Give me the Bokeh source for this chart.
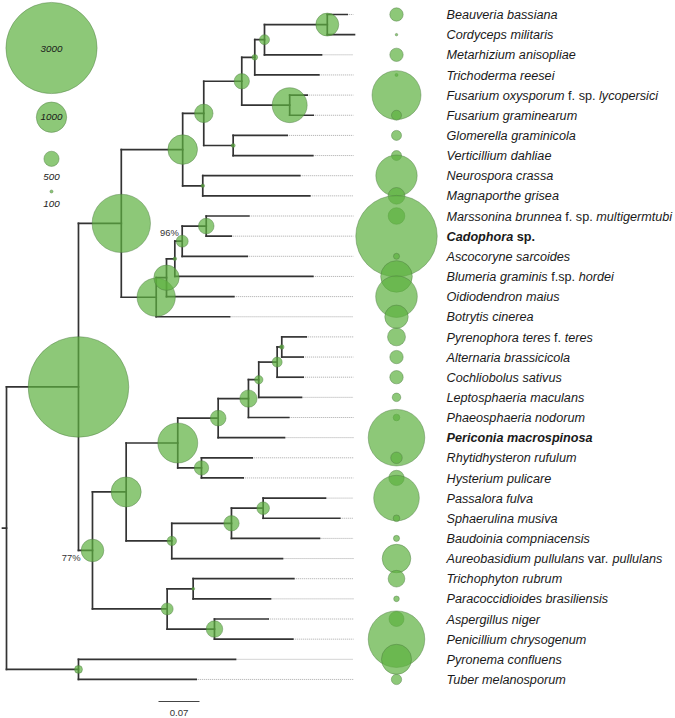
from bokeh.plotting import figure
from bokeh.models import Range1d, ColumnDataSource
from bokeh.embed import file_html
from bokeh.resources import INLINE
from bokeh.core.properties import value

# ------------------------------------------------------------------ data
# leaves, top to bottom; "|" separates italic / upright / italic parts
leaf_labels = [
    "Beauveria bassiana", "Cordyceps militaris", "Metarhizium anisopliae",
    "Trichoderma reesei", "Fusarium oxysporum| f. sp. |lycopersici",
    "Fusarium graminearum", "Glomerella graminicola", "Verticillium dahliae",
    "Neurospora crassa", "Magnaporthe grisea",
    "Marssonina brunnea| f. sp. |multigermtubi", "Cadophora| sp.",
    "Ascocoryne sarcoides", "Blumeria graminis| f.sp. |hordei",
    "Oidiodendron maius", "Botrytis cinerea", "Pyrenophora teres| f. |teres",
    "Alternaria brassicicola", "Cochliobolus sativus", "Leptosphaeria maculans",
    "Phaeosphaeria nodorum", "Periconia macrospinosa", "Rhytidhysteron rufulum",
    "Hysterium pulicare", "Passalora fulva", "Sphaerulina musiva",
    "Baudoinia compniacensis", "Aureobasidium pullulans| var. |pullulans",
    "Trichophyton rubrum", "Paracoccidioides brasiliensis", "Aspergillus niger",
    "Penicillium chrysogenum", "Pyronema confluens", "Tuber melanosporum",
]
bold_labels = ["Cadophora| sp.", "Periconia macrospinosa"]
leaf_parent = ["H", "H", "G", "F", "I", "I", "J", "J", "K", "K",
               "P", "P", "O", "N", "M", "L", "AA", "AA", "Z", "Y",
               "X", "V", "W", "W", "AC", "AC", "AB", "U", "AD", "AD",
               "AE", "AE", "PT", "PT"]
leaf_branch = [0.0340, 0.0464, 0.0973, 0.1093, 0.0299, 0.0401, 0.0922, 0.1359,
               0.1656, 0.1827, 0.0727, 0.0427, 0.1110, 0.2356, 0.1149, 0.1252,
               0.0417, 0.0365, 0.0444, 0.0729, 0.0688, 0.1132, 0.0866, 0.0712,
               0.1064, 0.1308, 0.1502, 0.1890, 0.1718, 0.1320, 0.0917, 0.1337,
               0.2681, 0.2010]
leaf_genes = [440, 80, 440, 100, 1610, 330, 330, 330, 1360, 550,
              550, 2680, 200, 1040, 1370, 770, 590, 440, 440, 280,
              220, 1860, 380, 505, 1500, 220, 200, 940, 550, 185,
              495, 1860, 990, 340]

# internal nodes (parents listed before children)
node_name = ["root", "A", "PT", "B", "Q", "C", "L", "D", "K", "E", "J", "F",
             "I", "G", "H", "M", "N", "O", "P", "R", "S", "T", "U", "V", "W",
             "X", "Y", "Z", "AA", "AB", "AC", "AD", "AE"]
node_parent = [None, "root", "root", "A", "A", "B", "B", "C", "C", "D", "D",
               "E", "E", "F", "G", "L", "M", "N", "O", "Q", "Q", "R", "R",
               "T", "T", "V", "X", "Y", "Z", "U", "AB", "S", "S"]
node_branch = [0.0068, 0.1229, 0.1229, 0.0731, 0.0239, 0.1048, 0.0596, 0.0360,
               0.0343, 0.0649, 0.0502, 0.0222, 0.0818, 0.0166, 0.1072, 0.0176,
               0.0142, 0.0126, 0.0410, 0.0575, 0.1275, 0.0881, 0.0779, 0.0690,
               0.0405, 0.0517, 0.0176, 0.0314, 0.0079, 0.1019, 0.0541, 0.0444,
               0.0808]
node_genes = [0, 3310, 260, 1920, 745, 975, 1260, 610, 120, 505, 130, 185,
              1150, 330, 755, 835, 120, 395, 515, 990, 395, 1315, 310, 515,
              475, 570, 275, 330, 150, 505, 415, 100, 545]

support_node = ["O", "Q"]
support_text = ["96%", "77%"]

legend_values = [3000, 1000, 500, 100]
legend_texts = ["3000", "1000", "500", "100"]
scale_length = 0.07
scale_text = "0.07"

# ------------------------------------------------------------------ layout helpers
PX_PER_UNIT = 585.7      # pixels per substitution unit
PX_PER_LEAF = 20.15      # pixels between leaves
W, H = 675, 718


def dx(xpx):
    return (xpx - 6.0) / PX_PER_UNIT


def uy(ypx):
    return (ypx - 14.0) / PX_PER_LEAF


SIZE_K = 2 * 0.0152               # circle diameter (px) per gene
FS = 12.65                        # label font size px
COL_X = dx(396)
LABEL_X = dx(446)
DOT_END = dx(353)

REG = {' ': 278, '.': 278, 'a': 556, 'b': 556, 'c': 500, 'd': 556, 'e': 556,
       'f': 278, 'g': 556, 'h': 556, 'i': 222, 'j': 222, 'k': 500, 'l': 222,
       'm': 833, 'n': 556, 'o': 556, 'p': 556, 'q': 556, 'r': 333, 's': 500,
       't': 278, 'u': 556, 'v': 500, 'w': 722, 'x': 500, 'y': 500, 'z': 500}
BOLD = {' ': 278, '.': 278, 'a': 556, 'b': 611, 'c': 556, 'd': 611, 'e': 556,
        'f': 333, 'g': 611, 'h': 611, 'i': 278, 'j': 278, 'k': 556, 'l': 278,
        'm': 889, 'n': 611, 'o': 611, 'p': 611, 'q': 611, 'r': 389, 's': 556,
        't': 333, 'u': 611, 'v': 556, 'w': 778, 'x': 556, 'y': 556, 'z': 500,
        'C': 722, 'P': 667}
UPPER = {'A': 667, 'B': 667, 'C': 722, 'F': 611, 'G': 778, 'H': 722, 'L': 556,
         'M': 833, 'N': 722, 'O': 778, 'P': 667, 'R': 722, 'S': 667, 'T': 611,
         'V': 667}


def text_w(s, bold):
    tab = BOLD if bold else REG
    return sum(tab.get(c, UPPER.get(c, 600)) for c in s) / 1000.0 * FS


# ------------------------------------------------------------------ tree geometry
depth = {}
for n, par, b in zip(node_name, node_parent, node_branch):
    depth[n] = 0.0 if par is None else depth[par] + b

children = {n: [] for n in node_name}
for n, par in zip(node_name, node_parent):
    if par is not None:
        children[par].append(("node", n))
for i, par in enumerate(leaf_parent):
    children[par].append(("leaf", i))

leaf_x = [depth[par] + b for par, b in zip(leaf_parent, leaf_branch)]
leaf_y = list(range(len(leaf_labels)))

ypos = {}
span = {}


def node_y(n):
    ys = []
    for kind, c in children[n]:
        ys.append(leaf_y[c] if kind == "leaf" else node_y(c))
    ypos[n] = (min(ys) + max(ys)) / 2.0
    span[n] = (min(ys), max(ys))
    return ypos[n]


node_y("root")

x0, y0, x1, y1 = [], [], [], []
for n, par, b in zip(node_name, node_parent, node_branch):
    if par is None:
        x0.append(-b); x1.append(0.0)
    else:
        x0.append(depth[par]); x1.append(depth[n])
    y0.append(ypos[n]); y1.append(ypos[n])
    lo, hi = span[n]
    x0.append(depth[n]); x1.append(depth[n]); y0.append(lo); y1.append(hi)
for i, par in enumerate(leaf_parent):
    x0.append(depth[par]); x1.append(leaf_x[i]); y0.append(leaf_y[i]); y1.append(leaf_y[i])

# ------------------------------------------------------------------ figure
p = figure(width=W, height=H,
           x_range=Range1d(dx(0), dx(W)), y_range=Range1d(uy(H), uy(0)),
           output_backend="svg", toolbar_location=None,
           x_axis_type=None, y_axis_type=None, min_border=0,
           outline_line_color=None, background_fill_color="white")
p.xgrid.visible = False
p.ygrid.visible = False

# dotted leaf extensions
dx0 = [x for x in leaf_x if x < DOT_END]
dy0 = [leaf_y[i] for i, x in enumerate(leaf_x) if x < DOT_END]
p.segment(x0=dx0, y0=dy0, x1=[DOT_END] * len(dx0), y1=dy0,
          line_color="#a8a8a8", line_width=1, line_dash="1 1")

# branches
p.segment(x0=x0, y0=y0, x1=x1, y1=y1, line_color="#333333", line_width=1.7,
          line_cap="square")

CIRC = dict(fill_color="#5cb13f", fill_alpha=0.7, line_color="#4d7a42",
            line_alpha=0.55, line_width=0.8)

# node circles
nx = [depth[n] for n, g in zip(node_name, node_genes) if g > 0]
ny = [ypos[n] for n, g in zip(node_name, node_genes) if g > 0]
ns = [g * SIZE_K for g in node_genes if g > 0]
p.scatter(x=nx, y=ny, size=ns, marker="circle", **CIRC)

# leaf circles column
p.scatter(x=[COL_X] * len(leaf_genes), y=leaf_y,
          size=[g * SIZE_K for g in leaf_genes], marker="circle", **CIRC)

# legend circles
leg_y = [uy(47.5), uy(116.7), uy(158.3), uy(191)]
leg_ty = [uy(48.3), uy(116.7), uy(176.7), uy(203.3)]
p.scatter(x=[dx(51)] * 4, y=leg_y, size=[v * SIZE_K for v in legend_values],
          marker="circle", **CIRC)
p.text(x=[dx(51)] * 4, y=leg_ty, text=legend_texts, text_align="center",
       text_baseline="middle", text_font=value("Liberation Sans"),
       text_font_style="italic", text_font_size="9.8px", text_color="#1a1a1a")

# support values
sx = [depth["O"] - 3.4 / PX_PER_UNIT, depth["Q"] - 12.0 / PX_PER_UNIT]
sy = [ypos["O"] - 9.0 / PX_PER_LEAF, ypos["Q"] + 6.7 / PX_PER_LEAF]
p.text(x=sx, y=sy, text=support_text, text_align="right", text_baseline="middle",
       text_font=value("Liberation Sans"), text_font_size="9.4px",
       text_color="#333333")

# scale bar
sb_x = dx(158)
p.segment(x0=[sb_x], y0=[uy(701)], x1=[sb_x + scale_length], y1=[uy(701)],
          line_color="#444444", line_width=1.2)
p.text(x=[sb_x + scale_length / 2], y=[uy(712)], text=[scale_text],
       text_align="center", text_baseline="middle",
       text_font=value("Liberation Sans"), text_font_size="9.6px",
       text_color="#333333")

# leaf labels (segments with mixed styles)
groups = {}
for i, lab in enumerate(leaf_labels):
    bold = lab in bold_labels
    off = 0.0
    for k, seg in enumerate(lab.split("|")):
        ital = (k % 2 == 0)
        style = ("bold " if bold else "") + ("italic" if ital else "")
        style = style.strip() or "normal"
        lead = len(seg) - len(seg.lstrip(" "))
        core = seg.strip(" ")
        g = groups.setdefault(style, dict(x=[], y=[], t=[], o=[]))
        g["x"].append(LABEL_X); g["y"].append(leaf_y[i] + 0.03)
        g["t"].append(core); g["o"].append(off + text_w(" " * lead, bold))
        off += text_w(seg, bold)

for style, g in groups.items():
    src = ColumnDataSource(dict(x=g["x"], y=g["y"], t=g["t"], o=g["o"]))
    p.text(x="x", y="y", text="t", x_offset="o", source=src, text_align="left",
           text_baseline="middle", text_font=value("Liberation Sans"),
           text_font_style=style, text_font_size=f"{FS}px", text_color="#1a1a1a")

open("out.html", "w").write(file_html(p, INLINE))
